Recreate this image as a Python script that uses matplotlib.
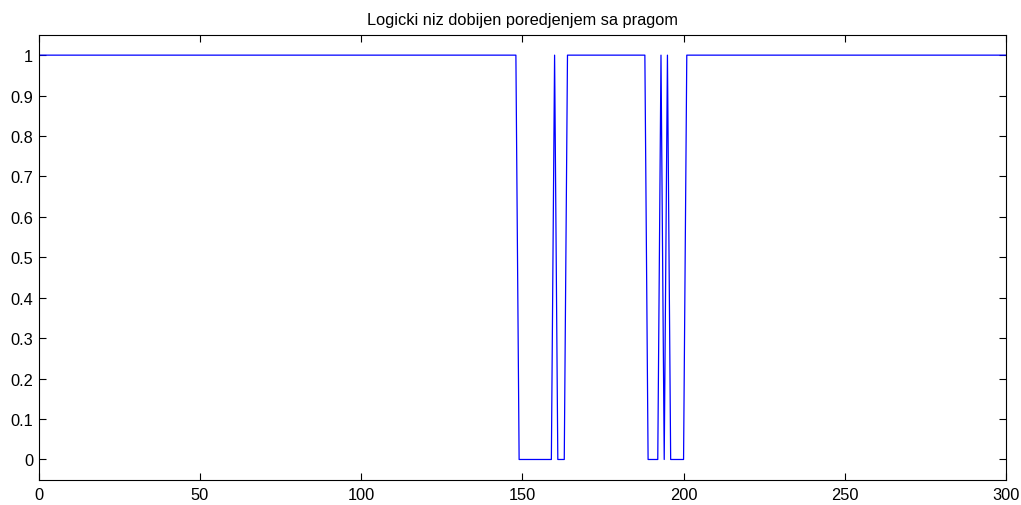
import matplotlib.pyplot as plt
import numpy as np

# points where the logical signal changes
x_pts = [0, 148, 149, 159, 160, 161, 163, 164, 188, 189, 192, 193, 194, 195, 196, 200, 201, 300]
y_pts = [1, 1, 0, 0, 1, 0, 0, 1, 1, 0, 0, 1, 0, 1, 0, 0, 1, 1]

xticks = np.arange(0, 301, 50)
yticks = [0, 0.1, 0.2, 0.3, 0.4, 0.5, 0.6, 0.7, 0.8, 0.9, 1]
ytick_labels = ["0", "0.1", "0.2", "0.3", "0.4", "0.5", "0.6", "0.7", "0.8", "0.9", "1"]

plt.rcParams['font.family'] = ['Liberation Sans', 'DejaVu Sans']

fig = plt.figure(figsize=(10.21, 5.06), dpi=100)
ax = fig.add_axes([0.0379, 0.05, 0.9474, 0.879])

ax.plot(x_pts, y_pts, color="#0000ff", linewidth=0.9)

ax.set_xlim(0, 300)
ax.set_ylim(-0.05, 1.05)
ax.set_xticks(xticks)
ax.set_yticks(yticks)
ax.set_yticklabels(ytick_labels)

tkw = dict(direction='in', length=5, width=0.8, labelsize=11.8,
           top=True, right=True)
ax.tick_params(axis='both', **tkw)
ax.tick_params(axis='x', pad=5)
ax.tick_params(axis='y', pad=4)
for s in ax.spines.values():
    s.set_linewidth(0.8)

ax.set_title("Logicki niz dobijen poredjenjem sa pragom", fontsize=11.8, pad=8)

fig.savefig("out.png", dpi=100)
